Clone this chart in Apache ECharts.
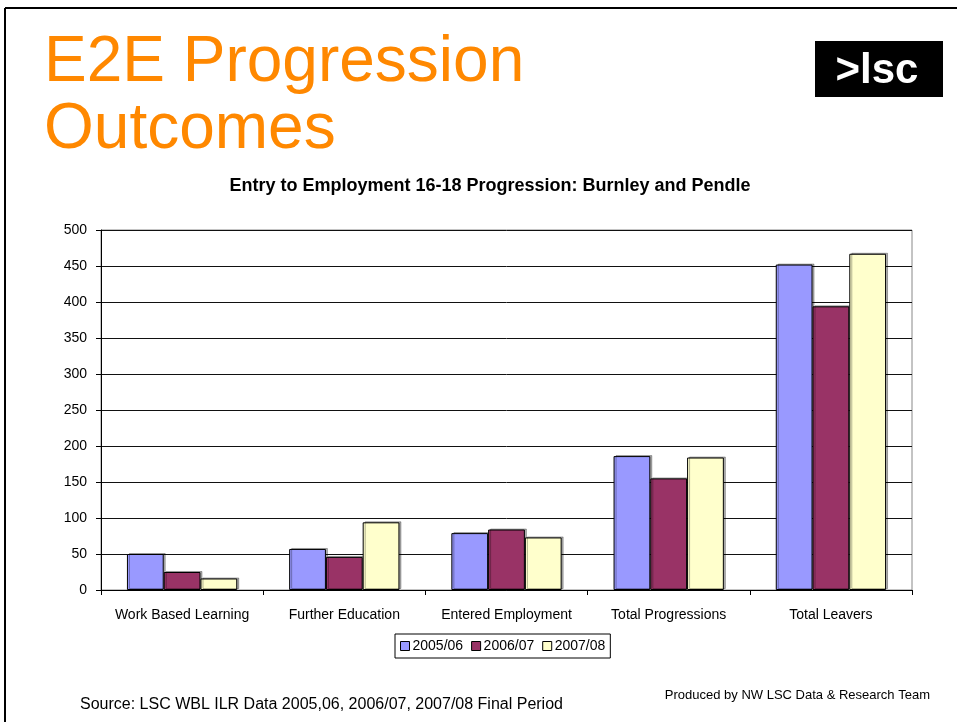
<!DOCTYPE html>
<html>
<head>
<meta charset="utf-8">
<script src="https://cdn.jsdelivr.net/npm/echarts@6/dist/echarts.min.js"></script>
<style>
html,body{margin:0;padding:0;background:#fff;}
#c{width:957px;height:722px;}
</style>
</head>
<body>
<div id="c"></div>
<script>
var categories = ['Work Based Learning', 'Further Education', 'Entered Employment', 'Total Progressions', 'Total Leavers'];
var seriesNames = ['2005/06', '2006/07', '2007/08'];
var values0506 = [50, 57, 79, 186, 452];
var values0607 = [25, 46, 84, 155, 394];
var values0708 = [16, 94, 73, 184, 467];
var yTicks = [0, 50, 100, 150, 200, 250, 300, 350, 400, 450, 500];

var colors = ['#9999FF', '#993366', '#FFFFCC'];
var font = '"Liberation Sans", Arial, sans-serif';

var chart = echarts.init(document.getElementById('c'), null, {renderer: 'canvas'});

function barSeries(name, data, color) {
  return {
    name: name,
    type: 'bar',
    data: data,
    barGap: '0%',
    barCategoryGap: '32%',
    itemStyle: {
      color: color,
      borderColor: '#000',
      borderWidth: 1,
      shadowColor: 'rgba(0,0,0,0.3)',
      shadowBlur: 0,
      shadowOffsetX: 2,
      shadowOffsetY: -1
    },
    emphasis: {disabled: true},
    animation: false
  };
}

chart.setOption({
  animation: false,
  backgroundColor: '#fff',
  title: {
    text: 'Entry to Employment 16-18 Progression: Burnley and Pendle',
    left: 485,
    textAlign: 'center',
    top: 172,
    textStyle: {fontFamily: font, fontSize: 18, fontWeight: 'bold', color: '#000'}
  },
  legend: {
    data: seriesNames,
    left: 395,
    top: 634,
    orient: 'horizontal',
    itemWidth: 9,
    itemHeight: 9,
    itemGap: 8,
    padding: [5, 5],
    borderColor: '#000',
    borderWidth: 1,
    icon: 'rect',
    itemStyle: {borderColor: '#000', borderWidth: 1},
    textStyle: {fontFamily: font, fontSize: 14, color: '#000', padding: [0, 0, 0, -2]}
  },
  grid: {
    left: 101, right: 45, top: 230, bottom: 132,
    show: true, borderColor: '#888', borderWidth: 1, backgroundColor: 'transparent'
  },
  xAxis: {
    type: 'category',
    data: categories,
    axisLine: {lineStyle: {color: '#000', width: 1}},
    axisTick: {show: true, length: 5, lineStyle: {color: '#000'}},
    axisLabel: {fontFamily: font, fontSize: 14, color: '#000', margin: 18, interval: 0}
  },
  yAxis: {
    type: 'value',
    min: yTicks[0],
    max: yTicks[yTicks.length - 1],
    interval: yTicks[1] - yTicks[0],
    axisLine: {show: true, lineStyle: {color: '#000', width: 1}},
    axisTick: {show: true, length: 5, lineStyle: {color: '#000'}},
    axisLabel: {fontFamily: font, fontSize: 14, color: '#000', margin: 14},
    splitLine: {show: true, lineStyle: {color: '#111', width: 1}}
  },
  series: [
    barSeries(seriesNames[0], values0506, colors[0]),
    barSeries(seriesNames[1], values0607, colors[1]),
    barSeries(seriesNames[2], values0708, colors[2])
  ],
  graphic: [
    {type: 'line', shape: {x1: 5, y1: 8, x2: 957, y2: 8}, style: {stroke: '#000', lineWidth: 2}, silent: true},
    {type: 'line', shape: {x1: 5, y1: 8, x2: 5, y2: 722}, style: {stroke: '#000', lineWidth: 2}, silent: true},
    {type: 'text', left: 44, top: 31, style: {text: 'E2E Progression', fontFamily: font, fontSize: 64, fill: '#FF8800'}, silent: true},
    {type: 'text', left: 44, top: 98, style: {text: 'Outcomes', fontFamily: font, fontSize: 64, fill: '#FF8800'}, silent: true},
    {type: 'rect', shape: {x: 815, y: 41, width: 128, height: 56}, style: {fill: '#000'}, silent: true},
    {type: 'text', x: 877, y: 71, style: {text: '>lsc', fontFamily: font, fontSize: 42, fontWeight: 'bold', fill: '#fff', align: 'center', verticalAlign: 'middle'}, silent: true},
    {type: 'text', x: 80, y: 705, style: {text: 'Source: LSC WBL ILR Data 2005,06, 2006/07, 2007/08 Final Period', fontFamily: font, fontSize: 16, fill: '#000', verticalAlign: 'middle'}, silent: true},
    {type: 'text', x: 930, y: 695, style: {text: 'Produced by NW LSC Data & Research Team', fontFamily: font, fontSize: 13, fill: '#000', align: 'right', verticalAlign: 'middle'}, silent: true}
  ]
});
</script>
</body>
</html>
